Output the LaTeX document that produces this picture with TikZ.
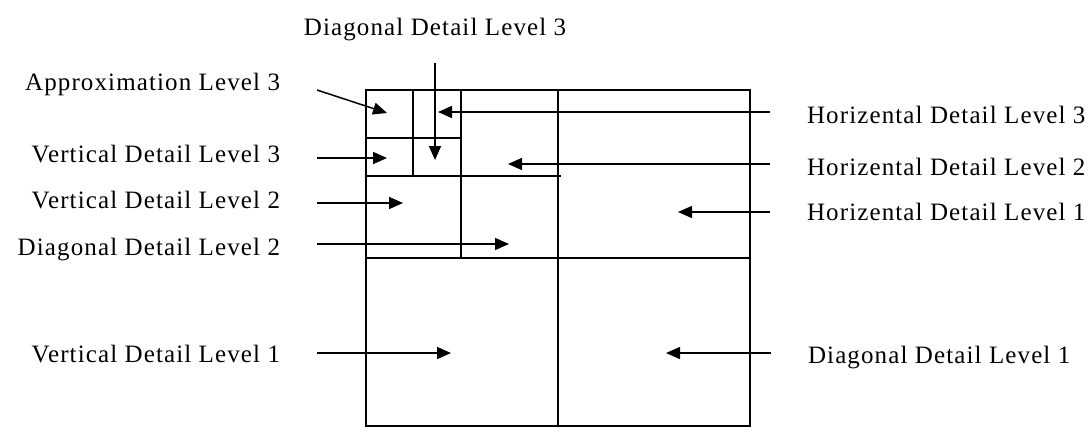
\documentclass[tikz,border=0pt]{standalone}
\usepackage{fontspec}
\setmainfont{Liberation Serif}[LetterSpace=4.5]
\usetikzlibrary{arrows.meta}

\begin{document}
\begin{tikzpicture}[
  x=1pt, y=-1pt,
  band/.style={line width=1.5pt},
  lbl/.style={inner sep=0pt, outer xsep=37pt, font=\fontsize{25}{30}\selectfont},
  arrow/.style={line width=1.5pt, -{Triangle[length=14pt, width=12pt]}},
]
\useasboundingbox (0,0) rectangle (1089,432);

% three-level subband layout
\draw[band] (366,90) rectangle (750,426);
\draw[band] (558,90) -- (558,426);
\draw[band] (366,258) -- (750,258);
\draw[band] (461,90) -- (461,258);
\draw[band] (366,176) -- (561,176);
\draw[band] (413,90) -- (413,176);
\draw[band] (366,138) -- (461,138);

% arrow tips inside the subbands
\coordinate (aprx3tip) at (387,113);
\coordinate (dd3tip) at (435,160);
\coordinate (vd3tip) at (387,158);
\coordinate (vd2tip) at (403,203);
\coordinate (dd2tip) at (509,244);
\coordinate (vd1tip) at (451,353);
\coordinate (hd3tip) at (438,112);
\coordinate (hd2tip) at (508,164);
\coordinate (hd1tip) at (678,212);
\coordinate (dd1tip) at (666,353);

% labels
\node[lbl, anchor=base, outer ysep=23pt] (dd3) at (435,35) {Diagonal Detail Level 3};
\node[lbl, anchor=base east] (aprx3) at (317,90) {Approximation Level 3};
\node[lbl, anchor=base east] (vd3) at (317,162) {Vertical Detail Level 3};
\node[lbl, anchor=base east] (vd2) at (317,208) {Vertical Detail Level 2};
\node[lbl, anchor=base east] (dd2) at (317,255) {Diagonal Detail Level 2};
\node[lbl, anchor=base east] (vd1) at (317,362) {Vertical Detail Level 1};
\node[lbl, anchor=base west] (hd3) at (770,123) {Horizental Detail Level 3};
\node[lbl, anchor=base west] (hd2) at (770,175) {Horizental Detail Level 2};
\node[lbl, anchor=base west] (hd1) at (770,220) {Horizental Detail Level 1};
\node[lbl, anchor=base west] (dd1) at (771,363) {Diagonal Detail Level 1};

\draw[arrow] (dd3.south) -- (dd3tip);
\draw[arrow] (aprx3.base east) -- (aprx3tip);
\draw[arrow] (vd3.east |- vd3tip) -- (vd3tip);
\draw[arrow] (vd2.east |- vd2tip) -- (vd2tip);
\draw[arrow] (dd2.east |- dd2tip) -- (dd2tip);
\draw[arrow] (vd1.east |- vd1tip) -- (vd1tip);
\draw[arrow] (hd3.west |- hd3tip) -- (hd3tip);
\draw[arrow] (hd2.west |- hd2tip) -- (hd2tip);
\draw[arrow] (hd1.west |- hd1tip) -- (hd1tip);
\draw[arrow] (dd1.west |- dd1tip) -- (dd1tip);

\end{tikzpicture}
\end{document}
